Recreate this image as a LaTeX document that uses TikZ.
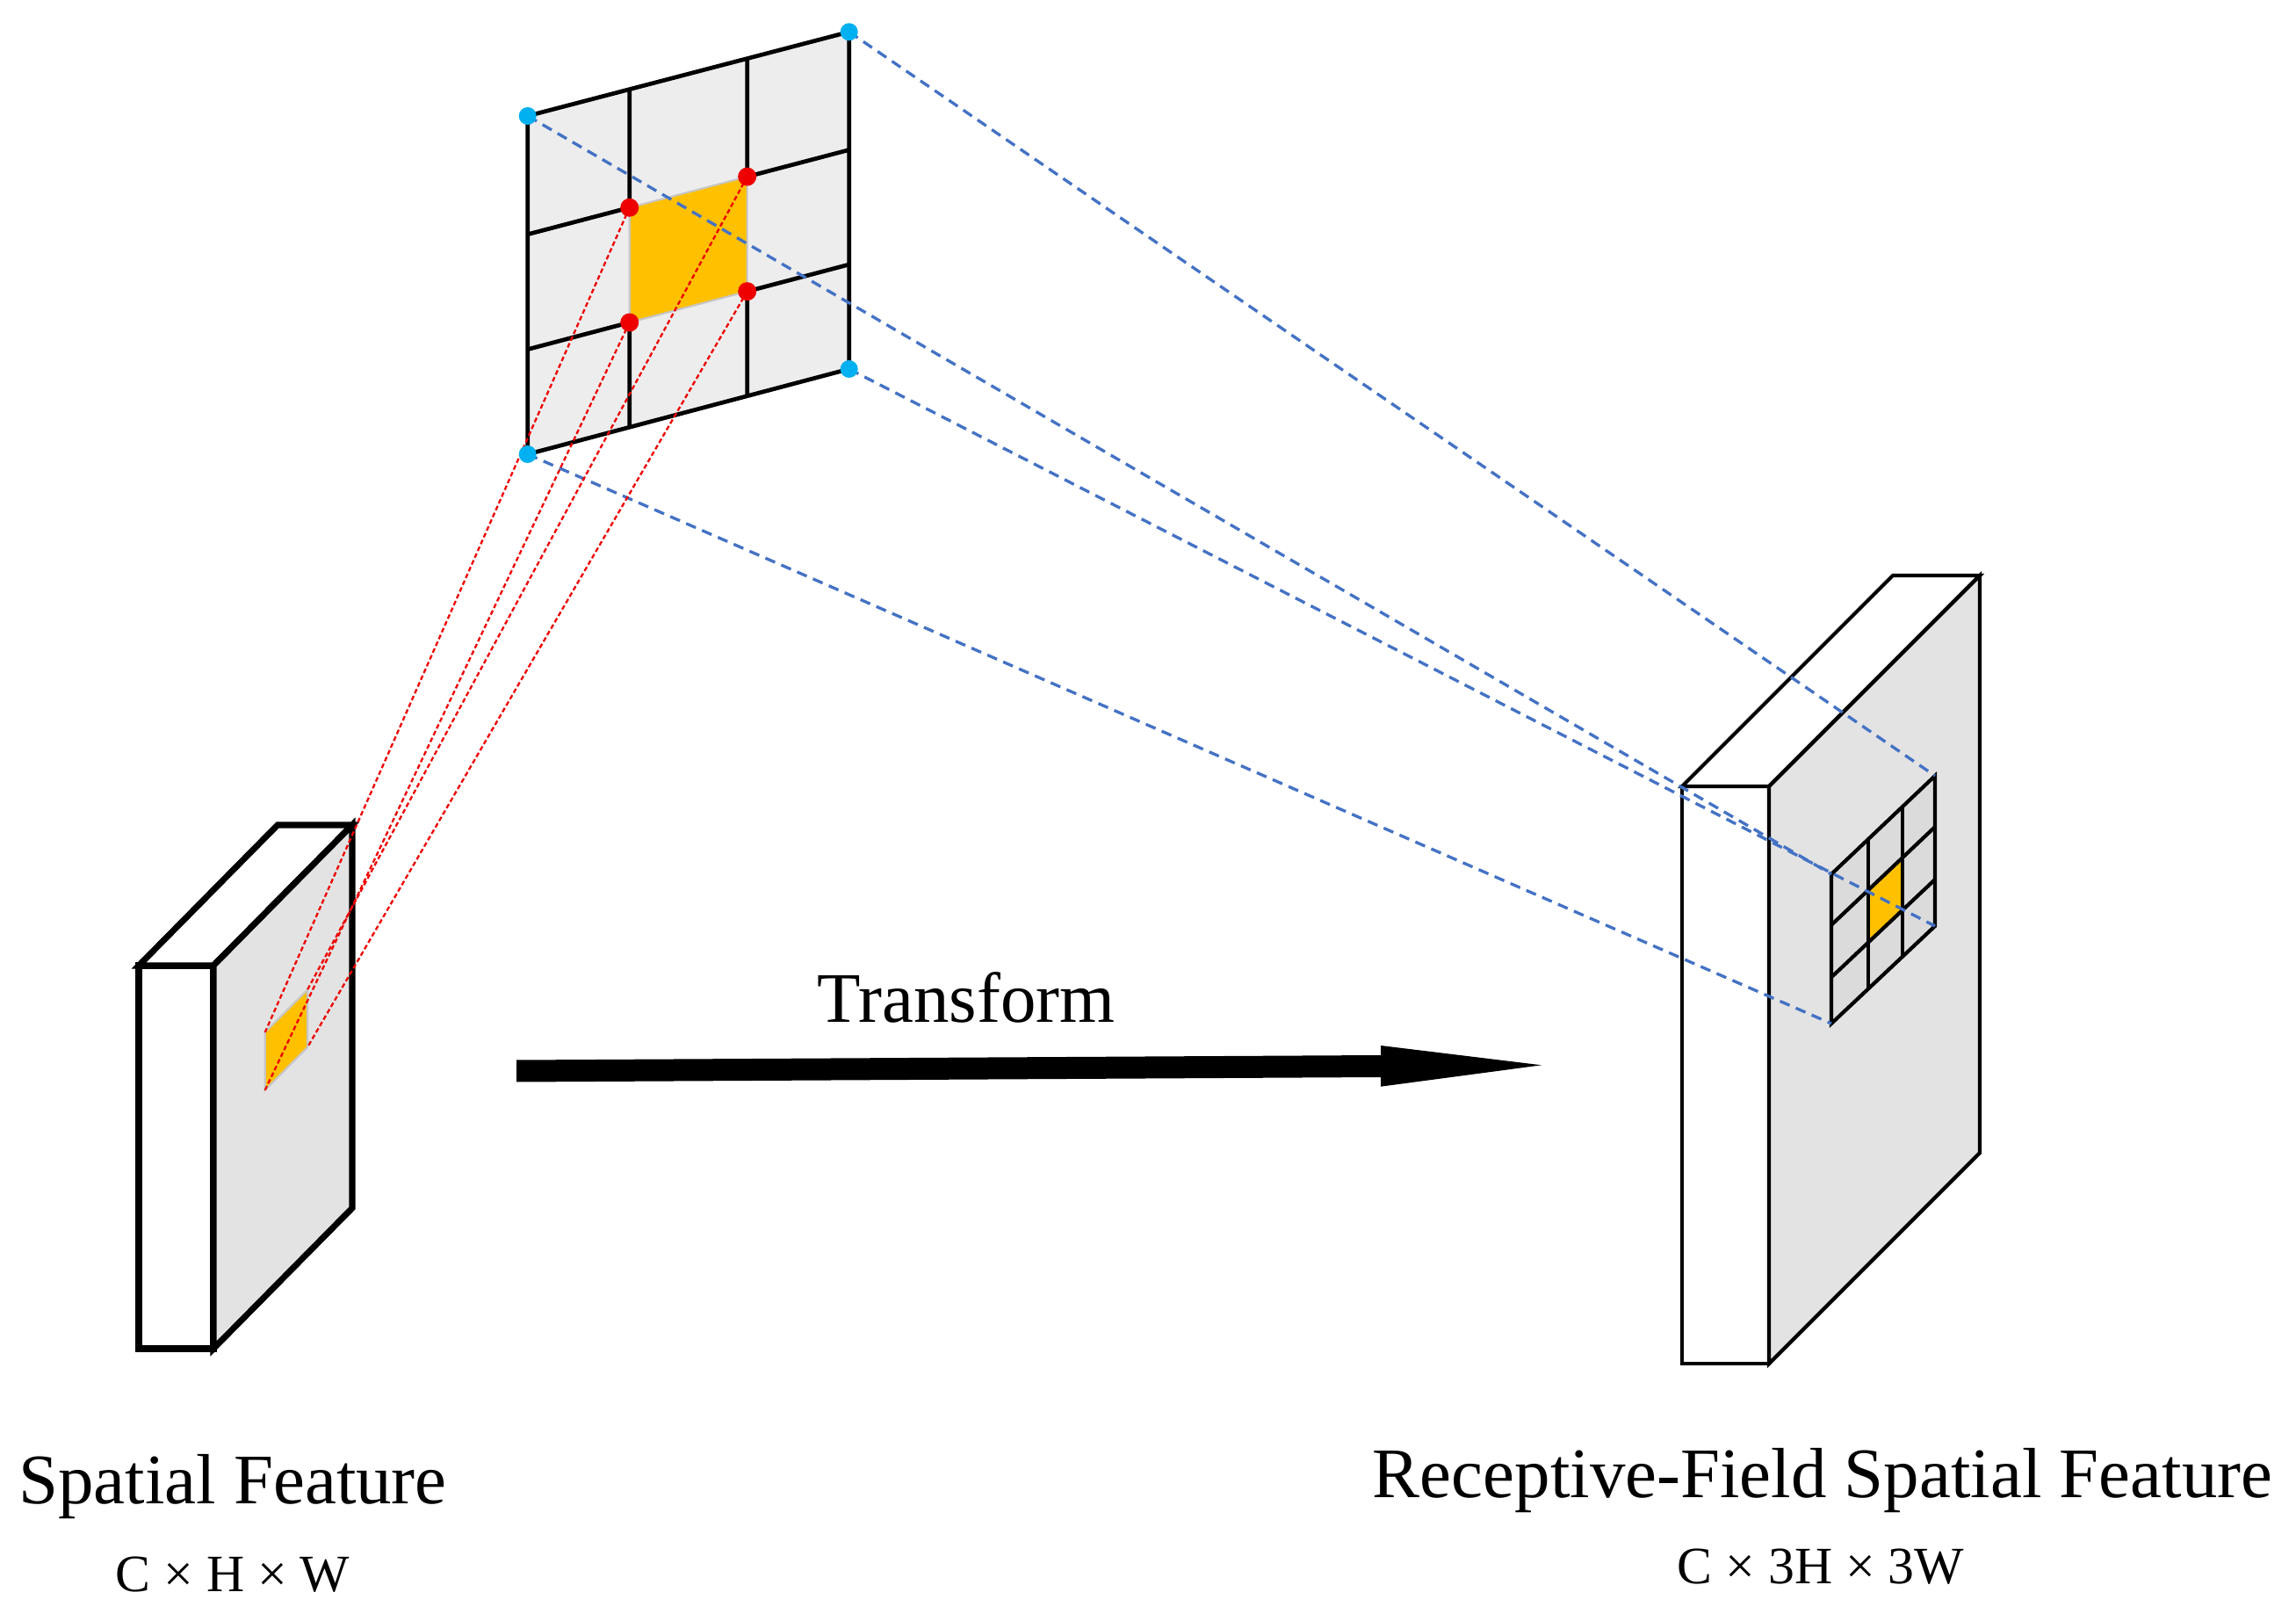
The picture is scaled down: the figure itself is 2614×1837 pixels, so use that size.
\documentclass[tikz,border=0pt]{standalone}
\usepackage{fontspec}
\setmainfont{Liberation Serif}
\usetikzlibrary{calc}

\begin{document}
\begin{tikzpicture}[x=0.01cm, y=-0.01cm]
    % Màu sắc
    \definecolor{myorange}{HTML}{FFC000}
    \definecolor{myblue}{HTML}{4472C4}
    \definecolor{mycyan}{HTML}{00B0F0}
    \definecolor{myred}{HTML}{EE0000}
    \definecolor{facegray}{HTML}{E3E3E3}
    \definecolor{gridgray}{HTML}{EDEDED}
    \definecolor{cellgray}{HTML}{DBDBDB}

    \tikzset{
        bluedash/.style={myblue, line width=0.95pt, dash pattern=on 3.4pt off 2.2pt},
        reddash/.style={myred, line width=0.65pt, dash pattern=on 1.5pt off 0.9pt},
        bluedot/.style={circle, fill=mycyan, inner sep=0pt, minimum size=0.2cm},
        reddot/.style={circle, fill=myred, inner sep=0pt, minimum size=0.21cm},
        bigtxt/.style={anchor=base, font=\fontsize{23}{27}\selectfont},
        smalltxt/.style={anchor=base, font=\fontsize{17}{20}\selectfont}
    }

    % Khung hình
    \useasboundingbox (0,0) rectangle (2614,1837);

    % Khối bên trái (Spatial Feature)
    \coordinate (lA) at (158,1099);
    \coordinate (lB) at (243,1099);
    \coordinate (lC) at (243,1535);
    \coordinate (lD) at (158,1535);
    \coordinate (lE) at ($(lA)+(158,-160)$);
    \coordinate (lF) at ($(lB)+(158,-160)$);
    \coordinate (lG) at ($(lC)+(158,-160)$);
    \filldraw[fill=white, line width=2pt] (lA) -- (lB) -- (lC) -- (lD) -- cycle;
    \filldraw[fill=white, line width=2pt] (lA) -- (lE) -- (lF) -- (lB) -- cycle;
    \filldraw[fill=facegray, line width=2pt] (lB) -- (lF) -- (lG) -- (lC) -- cycle;

    % Ô màu cam trên khối trái
    \coordinate (o1) at (301.7,1175);
    \coordinate (o2) at (350,1126.5);
    \coordinate (o3) at (350,1192);
    \coordinate (o4) at (301.7,1240.8);
    \filldraw[fill=myorange, draw=gray!45, line width=0.6pt] (o1) -- (o2) -- (o3) -- (o4) -- cycle;

    % Khối bên phải (Receptive-Field Spatial Feature)
    \coordinate (rA) at (1915,895);
    \coordinate (rB) at (2014,895);
    \coordinate (rC) at (2014,1552);
    \coordinate (rD) at (1915,1552);
    \coordinate (rE) at ($(rA)+(240,-240)$);
    \coordinate (rF) at ($(rB)+(240,-240)$);
    \coordinate (rG) at ($(rC)+(240,-240)$);
    \filldraw[fill=white, line width=1.2pt] (rA) -- (rB) -- (rC) -- (rD) -- cycle;
    \filldraw[fill=white, line width=1.2pt] (rA) -- (rE) -- (rF) -- (rB) -- cycle;
    \filldraw[fill=facegray, line width=1.2pt] (rB) -- (rF) -- (rG) -- (rC) -- cycle;

    % Lưới 3x3 nhỏ trên khối phải
    \coordinate (sTL) at (2085,995);
    \coordinate (sTR) at (2203,883);
    \coordinate (sBR) at (2203,1054);
    \coordinate (sBL) at (2085,1165);
    \foreach \i/\u in {0/0, 1/0.354, 2/0.688, 3/1}
        \foreach \j/\v in {0/0, 1/0.34, 2/0.69, 3/1}
            \coordinate (s\i\j) at ($($(sTL)!\v!(sBL)$)!\u!($(sTR)!\v!(sBR)$)$);
    \fill[cellgray] (s00) -- (s30) -- (s33) -- (s03) -- cycle;
    \fill[myorange] (s11) -- (s21) -- (s22) -- (s12) -- cycle;
    \draw[line width=1.2pt] (s00) -- (s30) -- (s33) -- (s03) -- cycle;
    \foreach \k in {1,2} {
        \draw[line width=1.2pt] (s\k0) -- (s\k3);
        \draw[line width=1.2pt] (s0\k) -- (s3\k);
    }

    % Lưới 3x3 phía trên
    \coordinate (gTL) at (600.7,132);
    \coordinate (gTR) at (966.7,36.3);
    \coordinate (gBR) at (966.7,420);
    \coordinate (gBL) at (600.7,517);
    \foreach \i/\u in {0/0, 1/0.317, 2/0.683, 3/1}
        \foreach \j/\v in {0/0, 1/0.35, 2/0.69, 3/1}
            \coordinate (g\i\j) at ($($(gTL)!\v!(gBL)$)!\u!($(gTR)!\v!(gBR)$)$);
    \fill[gridgray] (g00) -- (g30) -- (g33) -- (g03) -- cycle;
    \filldraw[fill=myorange, draw=gray!45, line width=0.6pt] (g11) -- (g21) -- (g22) -- (g12) -- cycle;
    \draw[line width=1.35pt] (g00) -- (g30) -- (g33) -- (g03) -- cycle;
    \foreach \k in {1,2} {
        \draw[line width=1.35pt] (g\k0) -- (g\k1);
        \draw[line width=1.35pt] (g\k2) -- (g\k3);
        \draw[line width=1.35pt] (g0\k) -- (g1\k);
        \draw[line width=1.35pt] (g2\k) -- (g3\k);
    }

    % Các đường đứt nét màu xanh
    \draw[bluedash] (g00) -- (s00);
    \draw[bluedash] (g30) -- (s30);
    \draw[bluedash] (g33) -- (s33);
    \draw[bluedash] (g03) -- (s03);

    % Các đường đứt nét màu đỏ
    \draw[reddash] (g11) -- (o1);
    \draw[reddash] (g21) -- (o2);
    \draw[reddash] (g22) -- (o3);
    \draw[reddash] (g12) -- (o4);

    % Các điểm
    \foreach \p in {00,30,33,03}
        \node[bluedot] (b\p) at (g\p) {};
    \foreach \p in {11,21,22,12}
        \node[reddot] (r\p) at (g\p) {};

    % Mũi tên Transform
    \fill (588,1206.5) -- (1572,1201) -- (1572,1190) -- (1755,1212.3)
        -- (1572,1236.7) -- (1572,1226) -- (588,1231.5) -- cycle;
    \node[bigtxt] (lblTransform) at (1100,1163) {Transform};

    % Nhãn
    \node[bigtxt] (lblSpatial) at (265,1711) {Spatial Feature};
    \node[smalltxt] (lblSpatialDim) at (265,1811) {C × H × W};
    \node[bigtxt] (lblRF) at (2075,1704) {Receptive-Field Spatial Feature};
    \node[smalltxt] (lblRFDim) at (2073,1802) {C × 3H × 3W};

\end{tikzpicture}
\end{document}
